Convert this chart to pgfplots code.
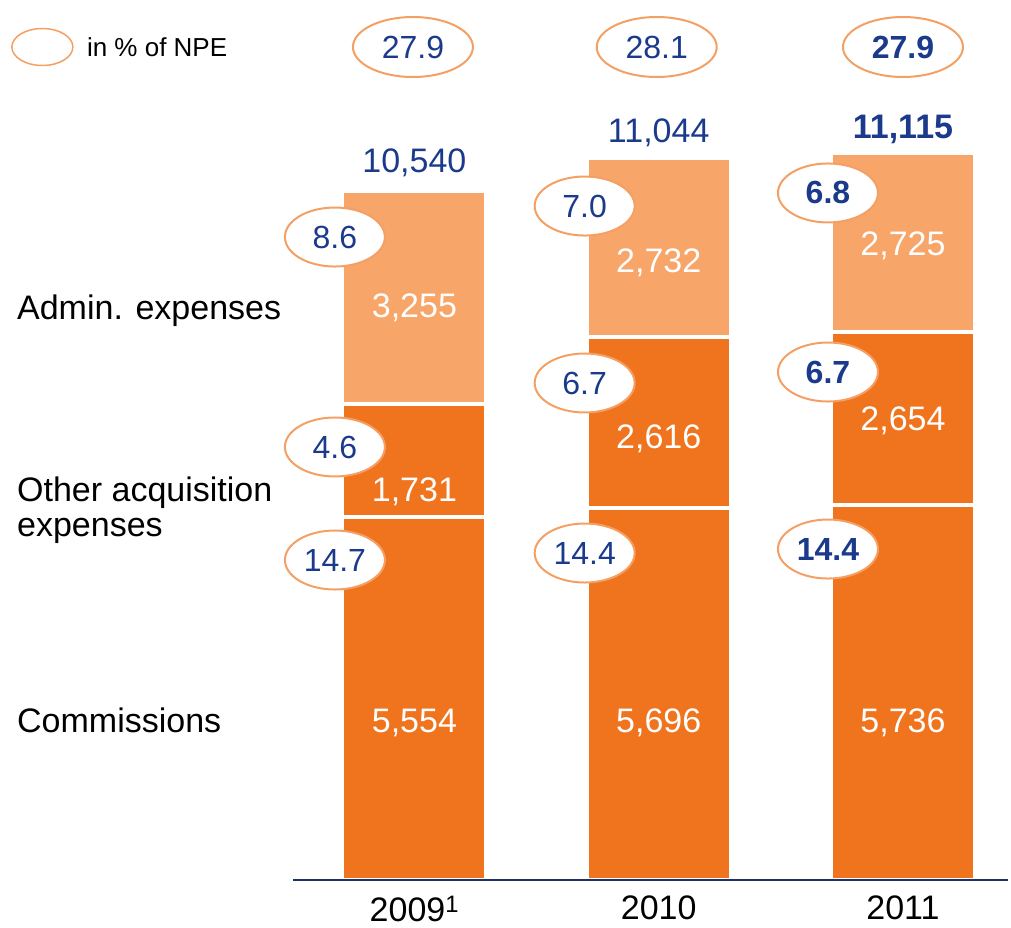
\documentclass[border=0pt]{standalone}
\usepackage{fontspec}
\setmainfont{Liberation Sans}
\usepackage{pgfplots}
\pgfplotsset{compat=1.18}
\usetikzlibrary{shapes.geometric}
\definecolor{dorange}{RGB}{240,115,30}
\definecolor{lorange}{RGB}{247,165,104}
\definecolor{eorange}{RGB}{244,160,100}
\definecolor{navy}{RGB}{27,58,140}
\definecolor{axisblue}{RGB}{30,50,100}
\newcommand\fA{\fontsize{34}{36}\selectfont}
\newcommand\fB{\fontsize{32}{36}\selectfont}
\newcommand\fC{\fontsize{26}{30}\selectfont}
\tikzset{
  elbl/.style={ellipse, draw=eorange, fill=white, line width=2pt, minimum width=100pt, minimum height=59pt, inner sep=0pt, text=navy, font=\fB},
  etop/.style={elbl, minimum width=120pt, minimum height=60pt},
  wl/.style={text=white, font=\fA, yshift=-3pt},
  tl/.style={text=navy, font=\fA, yshift=-3pt},
}
\begin{document}
\begin{tikzpicture}[x=1pt,y=1pt]
\useasboundingbox (0,0) rectangle (1011,928);
\begin{axis}[
  at={(293pt,48pt)}, anchor=south west,
  scale only axis, width=715pt, height=876pt,
  xmin=-0.497, xmax=2.43, ymin=0, ymax=13401,
  ybar stacked, bar width=144pt,
  axis line style={draw=none},
  xtick={0,1,2}, xticklabels={2009\textsuperscript{1},2010,2011},
  ytick=\empty, major tick length=0pt,
  xticklabel style={font=\fA, inner sep=0pt, yshift=-16pt, text=black},
  clip=false,
  every axis plot/.append style={draw=white, line width=4pt},
]
\addplot[fill=dorange] coordinates {(0,5554) (1,5696) (2,5736)};
\addplot[fill=dorange] coordinates {(0,1731) (1,2616) (2,2654)};
\addplot[fill=lorange] coordinates {(0,3255) (1,2732) (2,2725)};

\coordinate (bl) at (rel axis cs:0,0);
\coordinate (br) at (rel axis cs:1,0);
% segment labels
\coordinate (s1) at (axis cs:0,8796);
\coordinate (s2) at (axis cs:0,5981);
\coordinate (s3) at (axis cs:0,2448);
\coordinate (s4) at (axis cs:1,9484);
\coordinate (s5) at (axis cs:1,6792);
\coordinate (s6) at (axis cs:1,2448);
\coordinate (s7) at (axis cs:2,9745);
\coordinate (s8) at (axis cs:2,7067);
\coordinate (s9) at (axis cs:2,2448);
% totals
\coordinate (t1) at (axis cs:0,11014);
\coordinate (t2) at (axis cs:1,11473);
\coordinate (t3) at (axis cs:2,11534);
% top ellipses
\coordinate (p1) at (axis cs:-0.006,12743);
\coordinate (p2) at (axis cs:0.992,12743);
\coordinate (p3) at (axis cs:2,12743);
% side ellipses
\coordinate (e1) at (axis cs:-0.3255,9836);
\coordinate (e2) at (axis cs:-0.3255,6624);
\coordinate (e3) at (axis cs:-0.3255,4895);
\coordinate (e4) at (axis cs:0.697,10310);
\coordinate (e5) at (axis cs:0.697,7603);
\coordinate (e6) at (axis cs:0.697,5002);
\coordinate (e7) at (axis cs:1.693,10510);
\coordinate (e8) at (axis cs:1.693,7771);
\coordinate (e9) at (axis cs:1.693,5063);
% left labels
\coordinate (l1) at (axis cs:-1.627,8704);
\coordinate (l2) at (axis cs:-1.627,5652);
\coordinate (l3) at (axis cs:-1.627,2448);
% legend
\coordinate (g1) at (axis cs:-1.523,12743);
\coordinate (g2) at (axis cs:-1.341,12743);
\end{axis}

\draw[axisblue, line width=1.5pt] (bl) -- (br);

\node[wl] at (s1) {3,255};
\node[wl] at (s2) {1,731};
\node[wl] at (s3) {5,554};
\node[wl] at (s4) {2,732};
\node[wl] at (s5) {2,616};
\node[wl] at (s6) {5,696};
\node[wl] at (s7) {2,725};
\node[wl] at (s8) {2,654};
\node[wl] at (s9) {5,736};

\node[tl] at (t1) {10,540};
\node[tl] at (t2) {11,044};
\node[tl, font=\fA\bfseries] at (t3) {11,115};

\node[etop] at (p1) {27.9};
\node[etop] at (p2) {28.1};
\node[etop, font=\fB\bfseries] at (p3) {27.9};

\node[elbl] at (e1) {8.6};
\node[elbl] at (e2) {4.6};
\node[elbl] at (e3) {14.7};
\node[elbl] at (e4) {7.0};
\node[elbl] at (e5) {6.7};
\node[elbl] at (e6) {14.4};
\node[elbl, font=\fB\bfseries] at (e7) {6.8};
\node[elbl, font=\fB\bfseries] at (e8) {6.7};
\node[elbl, font=\fB\bfseries] at (e9) {14.4};

\node[anchor=west, font=\fA, inner sep=0pt] at (l1) {Admin. expenses};
\node[anchor=west, font=\fontsize{34}{35}\selectfont, inner sep=0pt, align=left] at (l2) {Other acquisition\\expenses};
\node[anchor=west, font=\fA, inner sep=0pt] at (l3) {Commissions};

\node[ellipse, draw=eorange, fill=white, line width=1.5pt, minimum width=61pt, minimum height=37pt, inner sep=0pt] at (g1) {};
\node[anchor=west, font=\fC, inner sep=0pt] at (g2) {in \% of NPE};
\end{tikzpicture}
\end{document}
